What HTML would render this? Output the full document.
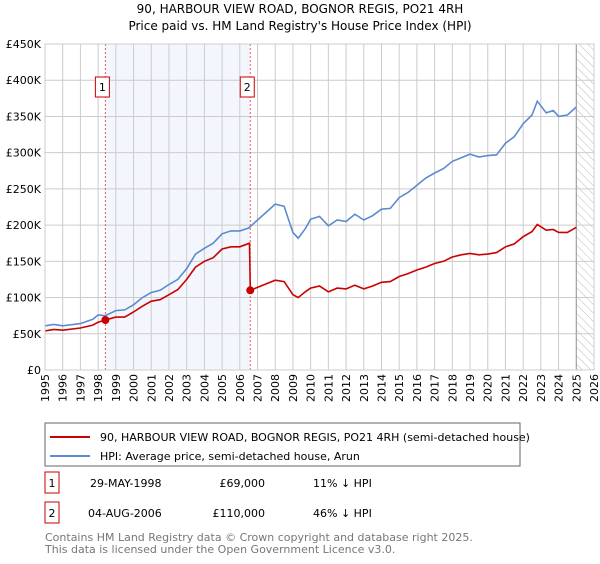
<!DOCTYPE html>
<html><head><meta charset="utf-8"><style>
body{margin:0;background:#fff;font-family:"DejaVu Sans","Liberation Sans",sans-serif;}
svg text{font-family:"DejaVu Sans","Liberation Sans",sans-serif;}
</style></head><body>
<svg id="c" width="600" height="560" xmlns="http://www.w3.org/2000/svg">
<defs><pattern id="hatch" width="6" height="6" patternUnits="userSpaceOnUse" patternTransform="rotate(-45)"><line x1="0" y1="0" x2="0" y2="6" stroke="#bbb" stroke-width="1"/></pattern></defs>
<text x="300" y="13" text-anchor="middle" font-size="12">90, HARBOUR VIEW ROAD, BOGNOR REGIS, PO21 4RH</text>
<text x="300" y="30" text-anchor="middle" font-size="12">Price paid vs. HM Land Registry's House Price Index (HPI)</text>
<g id="plot"></g>
<rect x="45" y="423" width="475" height="43" fill="none" stroke="#666"/>
<line x1="50" y1="437" x2="90" y2="437" stroke="#cc0000" stroke-width="2"/>
<text x="100" y="441" font-size="11">90, HARBOUR VIEW ROAD, BOGNOR REGIS, PO21 4RH (semi-detached house)</text>
<line x1="50" y1="456" x2="90" y2="456" stroke="#5b8bd0" stroke-width="2"/>
<text x="100" y="460" font-size="11">HPI: Average price, semi-detached house, Arun</text>
<rect x="45" y="472" width="14" height="21" fill="#fff" stroke="#cc0000"/>
<text x="52" y="487" text-anchor="middle" font-size="11">1</text>
<text x="90" y="487" font-size="11">29-MAY-1998</text>
<text x="265" y="487" text-anchor="end" font-size="11">£69,000</text>
<text x="313" y="487" font-size="11">11% ↓ HPI</text>
<rect x="45" y="502" width="14" height="21" fill="#fff" stroke="#cc0000"/>
<text x="52" y="517" text-anchor="middle" font-size="11">2</text>
<text x="88" y="517" font-size="11">04-AUG-2006</text>
<text x="265" y="517" text-anchor="end" font-size="11">£110,000</text>
<text x="313" y="517" font-size="11">46% ↓ HPI</text>
<text x="45" y="541" font-size="11" fill="#777">Contains HM Land Registry data © Crown copyright and database right 2025.</text>
<text x="45" y="553" font-size="11" fill="#777">This data is licensed under the Open Government Licence v3.0.</text>
</svg>
<script>
const hpiYears=[1995,1995.5,1996,1997,1997.7,1998,1998.4,1999,1999.5,2000,2000.5,2001,2001.5,2002,2002.5,2003,2003.5,2004,2004.5,2005,2005.5,2006,2006.5,2007,2007.5,2008,2008.5,2009,2009.3,2009.7,2010,2010.5,2011,2011.5,2012,2012.5,2013,2013.5,2014,2014.5,2015,2015.5,2016,2016.5,2017,2017.5,2018,2018.5,2019,2019.5,2020,2020.5,2021,2021.5,2022,2022.5,2022.8,2023.3,2023.7,2024,2024.5,2025];
const hpiValues=[61,63,61,64,70,76,75,82,83,90,100,107,110,118,125,140,160,168,175,188,192,192,196,207,218,229,226,190,182,195,208,212,199,207,205,215,207,213,222,223,238,245,255,265,272,278,288,293,298,294,296,297,313,322,340,352,371,355,358,350,352,363];
const redYears=[1995,1995.5,1996,1997,1997.7,1998,1998.41,1999,1999.5,2000,2000.5,2001,2001.5,2002,2002.5,2003,2003.5,2004,2004.5,2005,2005.5,2006,2006.55,2006.59,2007,2007.5,2008,2008.5,2009,2009.3,2009.7,2010,2010.5,2011,2011.5,2012,2012.5,2013,2013.5,2014,2014.5,2015,2015.5,2016,2016.5,2017,2017.5,2018,2018.5,2019,2019.5,2020,2020.5,2021,2021.5,2022,2022.5,2022.8,2023.3,2023.7,2024,2024.5,2025];
const redValues=[54,56,55,58,62,66,69,73,73,80,88,95,97,104,111,125,142,150,155,167,170,170,175,110,114,119,124,122,104,100,108,113,116,108,113,112,117,112,116,121,122,129,133,138,142,147,150,156,159,161,159,160,162,170,174,184,191,201,193,194,190,190,197];
const sales=[[1998.41,69,'1'],[2006.59,110,'2']];
const yTicks=[0,50,100,150,200,250,300,350,400,450];
const xTicks=[1995,1996,1997,1998,1999,2000,2001,2002,2003,2004,2005,2006,2007,2008,2009,2010,2011,2012,2013,2014,2015,2016,2017,2018,2019,2020,2021,2022,2023,2024,2025,2026];
const X0=45,X1=594,Y0=370,Y1=44;
const xs=y=>X0+(y-1995)/(2026-1995)*(X1-X0);
const ys=v=>Y0-v/450*(Y0-Y1);
const g=document.getElementById('plot');const NS='http://www.w3.org/2000/svg';
function mk(t,a,p){const e=document.createElementNS(NS,t);for(const k in a)e.setAttribute(k,a[k]);(p||g).appendChild(e);return e;}
let e=mk('rect',{x:xs(1998.41),y:Y1,width:xs(2006.59)-xs(1998.41),height:Y0-Y1,fill:'#eef3fc',opacity:0.7});


e=mk('rect',{x:xs(2025.0),y:Y1,width:X1-xs(2025.0),height:Y0-Y1,fill:'url(#hatch)'});


yTicks.forEach(v=>{e=mk('line',{x1:X0,x2:X1,y1:ys(v),y2:ys(v),stroke:'#ccc'});


e=mk('text',{x:X0-4,y:ys(v)+4,'text-anchor':'end','font-size':11});e.textContent=v===0?'£0':'£'+v+'K';

});
xTicks.forEach(y=>{e=mk('line',{x1:xs(y),x2:xs(y),y1:Y1,y2:Y0,stroke:'#ccc'});


const x=xs(y);e=mk('text',{x:x+4,y:Y0+4,'text-anchor':'end','font-size':11,transform:`rotate(-90 ${x+4} ${Y0+4})`});e.textContent=y;

});
e=mk('line',{x1:xs(2025.0),x2:xs(2025.0),y1:Y1,y2:Y0,stroke:'#999','stroke-width':1});


sales.forEach(s=>{e=mk('line',{x1:xs(s[0]),x2:xs(s[0]),y1:Y1,y2:Y0,stroke:'#e55','stroke-dasharray':'2,2'});

});
function line(xa,va,col,name){e=mk('polyline',{points:xa.map((x,i)=>xs(x).toFixed(1)+','+ys(va[i]).toFixed(1)).join(' '),fill:'none',stroke:col,'stroke-width':1.6});

}
line(hpiYears,hpiValues,'#5b8bd0','hpi-line');
line(redYears,redValues,'#cc0000','price-paid-line');
sales.forEach(s=>{e=mk('circle',{cx:xs(s[0]),cy:ys(s[1]),r:4,fill:'#cc0000'});


const bx=xs(s[0])-3;e=mk('rect',{x:bx-7,y:77,width:14,height:20,fill:'#fff',stroke:'#cc0000'});


e=mk('text',{x:bx,y:91,'text-anchor':'middle','font-size':11});e.textContent=s[2];

});
e=mk('rect',{x:X0,y:Y1,width:X1-X0,height:Y0-Y1,fill:'none',stroke:'#ccc'});


</script>
</body></html>
